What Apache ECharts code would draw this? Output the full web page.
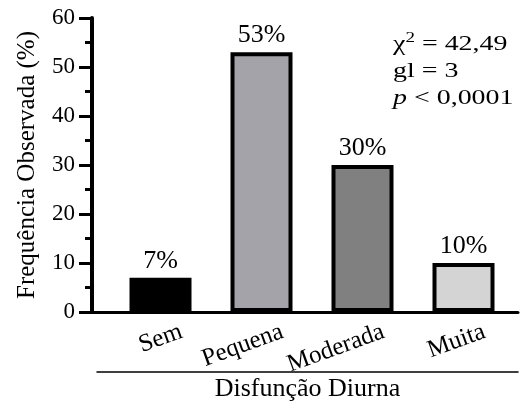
<!DOCTYPE html>
<html>
<head>
<meta charset="utf-8">
<script src="https://cdn.jsdelivr.net/npm/echarts@6/dist/echarts.min.js"></script>
<style>
  html, body { margin: 0; padding: 0; background: #fff; }
  #chart { width: 525px; height: 401px; }
</style>
</head>
<body>
<div id="chart"></div>
<script>
// dados do gráfico
var categorias = ['Sem', 'Pequena', 'Moderada', 'Muita'];
var frequencias = [7, 53, 30, 10];
var cores = ['#000000', '#a4a3a9', '#808080', '#d4d4d4'];
var yTicks = [0, 10, 20, 30, 40, 50, 60];

var fonte = 'Liberation Serif';
var myChart = echarts.init(document.getElementById('chart'));

var dados = [];
for (var i = 0; i < frequencias.length; i++) {
    dados.push({ value: frequencias[i], itemStyle: { color: cores[i] } });
}

var option = {
    animation: false,
    textStyle: { fontFamily: fonte, color: '#000' },
    grid: [
        { left: 110, width: 404, top: 18, bottom: 89, outerBoundsMode: 'none' },   // barras
        { left: 92, right: 7, top: 18, bottom: 89, outerBoundsMode: 'none' },      // eixo y + linha base
        { left: 131, width: 404, top: 18, bottom: 89, outerBoundsMode: 'none' },   // rótulos das categorias
        { left: 97, right: 7, top: 18, bottom: 29, outerBoundsMode: 'none' }       // linha + título do eixo x
    ],
    xAxis: [
        { gridIndex: 0, type: 'category', data: categorias, show: false },
        { gridIndex: 1, type: 'category', data: [''],
          axisLine: { lineStyle: { color: '#000', width: 3 } },
          axisTick: { show: false }, axisLabel: { show: false } },
        { gridIndex: 2, type: 'category', data: categorias,
          axisLine: { show: false }, axisTick: { show: false },
          axisLabel: { rotate: 20, margin: 19, fontSize: 25, color: '#000', fontFamily: fonte, interval: 0 } },
        { gridIndex: 3, type: 'category', data: [''],
          axisLine: { lineStyle: { color: '#000', width: 1.5 } },
          axisTick: { show: false }, axisLabel: { show: false },
          name: 'Disfunção Diurna', nameLocation: 'middle', nameGap: 4,
          nameTextStyle: { fontSize: 26, color: '#000', fontFamily: fonte, verticalAlign: 'top' } }
    ],
    yAxis: [
        { gridIndex: 0, type: 'value', min: 0, max: 60, show: false },
        { gridIndex: 1, type: 'value', min: yTicks[0], max: yTicks[yTicks.length - 1], interval: 10,
          axisLine: { show: true, lineStyle: { color: '#000', width: 4 } },
          axisTick: { show: true, length: 13, lineStyle: { color: '#000', width: 3 } },
          minorTick: { show: true, splitNumber: 2, length: 7, lineStyle: { color: '#000', width: 3 } },
          splitLine: { show: false },
          axisLabel: { fontSize: 23, color: '#000', margin: 17, fontFamily: fonte },
          name: 'Frequência Observada (%)', nameLocation: 'middle', nameGap: 52,
          nameTextStyle: { fontSize: 25, color: '#000', fontFamily: fonte } },
        { gridIndex: 2, type: 'value', min: 0, max: 60, show: false },
        { gridIndex: 3, type: 'value', min: 0, max: 60, show: false }
    ],
    series: [
        {
            type: 'bar',
            xAxisIndex: 0,
            yAxisIndex: 0,
            data: dados,
            barWidth: 62,
            itemStyle: { borderColor: '#000', borderWidth: 4 },
            label: {
                show: true,
                position: 'top',
                distance: 4,
                formatter: '{c}%',
                fontSize: 26,
                color: '#000',
                fontFamily: fonte
            }
        }
    ],
    graphic: [
        {
            type: 'text',
            left: 393,
            top: 31,
            scaleX: 1.27,
            style: {
                text: '{a|χ}{s|2}{a| = 42,49}\n{a|gl = 3}\n{i|p}{a| < 0,0001}',
                fill: '#000',
                rich: {
                    a: { fontSize: 22, fontFamily: fonte, lineHeight: 27 },
                    s: { fontSize: 15, fontFamily: fonte, lineHeight: 27, verticalAlign: 'top' },
                    i: { fontSize: 22, fontFamily: fonte, fontStyle: 'italic', lineHeight: 27 }
                }
            }
        }
    ]
};

myChart.setOption(option);
</script>
</body>
</html>
